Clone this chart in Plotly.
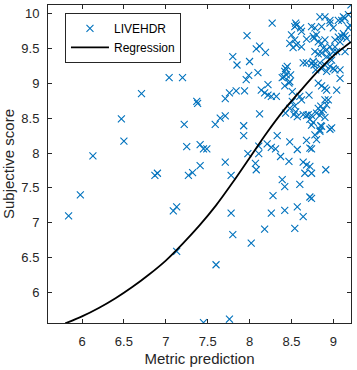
import plotly.graph_objects as go

# Scatter data (metric prediction, subjective score)
pred = [5.84, 5.98, 6.13, 6.47, 6.50, 6.71, 6.87, 6.90, 7.04, 7.20,
        7.22, 7.25, 7.27, 7.32, 7.41, 7.37, 7.38, 7.41, 7.45, 7.49,
        7.59, 7.65, 7.71, 7.71, 7.76, 7.84, 7.94, 7.97, 7.80, 7.85,
        8.00, 7.96, 7.99, 7.71, 7.78, 7.93, 7.93, 7.98, 7.13, 7.09,
        7.13, 7.78, 7.80, 7.60, 7.45, 7.76, 8.02, 8.18, 8.54, 8.26,
        8.42, 8.57, 8.64, 8.28, 8.42, 8.60, 8.72, 8.74, 8.39, 8.07,
        8.08, 8.11, 8.11, 8.21, 8.26, 8.31, 8.37, 8.33, 8.48, 8.57,
        8.47, 8.68, 8.72, 8.74, 8.64, 8.68, 8.72, 8.74, 8.91, 8.66,
        8.12, 8.96, 8.85, 8.84, 8.78, 8.74, 8.72, 8.68, 8.74, 8.80,
        8.84, 8.90, 8.86, 8.55, 8.57, 8.64, 8.70, 8.53, 8.43, 8.76,
        8.48, 8.54, 8.82, 8.85, 8.88, 8.94, 8.60, 8.62, 8.51, 8.51,
        8.14, 8.22, 8.22, 8.18, 8.26, 8.32, 8.39, 8.42, 8.45, 8.44,
        8.48, 8.42, 8.10, 8.08, 8.12, 8.19, 8.27, 8.50, 8.54, 8.48,
        8.56, 8.52, 8.54, 8.56, 8.62, 8.68, 8.62, 8.64, 8.68, 8.74,
        8.77, 8.74, 8.78, 8.76, 8.80, 8.86, 8.90, 8.84, 8.96, 9.06,
        9.12, 9.14, 9.20, 9.21, 8.82, 8.86, 8.90, 8.88, 8.92, 8.86,
        8.92, 8.96, 8.98, 9.02, 9.06, 9.10, 9.12, 9.14, 9.16, 9.08,
        9.02, 9.04, 8.78, 8.82, 8.76, 8.90, 8.96, 9.00, 9.02, 8.92,
        9.08, 8.82, 8.86, 8.90, 8.92, 9.04, 8.98, 8.86, 8.84, 8.80,
        8.96, 9.00, 9.10, 9.18, 9.18, 8.55, 8.61, 8.96, 9.00, 9.14,
        8.77, 8.43, 8.41, 8.49, 8.47, 8.71, 8.90, 8.92, 8.79, 8.84,
        8.86, 9.08]
score = [7.10, 7.40, 7.96, 8.49, 8.17, 8.85, 7.68, 7.71, 9.08, 9.08,
         8.41, 8.09, 7.68, 7.72, 7.82, 8.74, 8.71, 8.12, 8.06, 8.06,
         8.41, 8.50, 8.53, 8.78, 8.86, 8.89, 8.89, 9.68, 9.38, 9.26,
         9.31, 9.05, 9.11, 7.87, 7.68, 8.39, 8.25, 7.99, 7.23, 7.17,
         6.59, 7.14, 6.83, 6.40, 5.57, 5.62, 6.71, 6.91, 6.92, 7.14,
         7.18, 7.23, 7.09, 7.39, 7.52, 7.55, 7.37, 7.35, 7.62, 7.85,
         7.76, 7.99, 8.10, 8.13, 8.08, 8.06, 7.95, 8.25, 8.16, 8.05,
         7.88, 8.18, 8.07, 8.06, 7.87, 7.83, 7.81, 7.71, 7.76, 7.71,
         8.56, 8.34, 8.39, 8.33, 8.26, 8.40, 8.48, 8.54, 8.54, 8.57,
         8.54, 8.51, 8.59, 8.59, 8.52, 8.55, 8.55, 8.55, 8.57, 8.44,
         8.64, 8.67, 8.64, 8.67, 8.62, 8.76, 8.81, 8.76, 8.74, 8.88,
         8.90, 8.98, 8.83, 8.86, 8.81, 8.81, 9.08, 9.17, 9.24, 9.12,
         9.02, 8.96, 9.15, 9.49, 9.53, 9.44, 9.86, 9.69, 9.62, 9.57,
         9.55, 9.51, 9.81, 9.83, 9.74, 9.63, 9.52, 9.29, 9.29, 9.28,
         9.26, 9.81, 9.79, 9.67, 9.69, 9.81, 9.95, 9.95, 9.90, 9.90,
         9.95, 9.93, 9.83, 10.12, 9.59, 9.57, 9.62, 9.50, 9.48, 9.43,
         9.38, 9.40, 9.33, 9.62, 9.66, 9.67, 9.71, 9.68, 9.64, 9.59,
         9.52, 9.45, 9.45, 9.42, 9.31, 9.26, 9.24, 9.21, 9.19, 9.17,
         9.07, 9.00, 8.96, 8.93, 8.90, 8.90, 8.36, 8.38, 8.31, 8.19,
         9.86, 9.79, 9.90, 9.98, 9.79, 9.86, 9.79, 9.52, 9.45, 9.45,
         9.64, 9.21, 9.09, 9.12, 9.00, 8.83, 8.76, 8.69, 9.19, 9.29,
         9.21, 9.19]

# Regression curve points
reg_x = [5.80, 6.00, 6.20, 6.40, 6.60, 6.80, 7.00, 7.20, 7.40, 7.60,
         7.80, 8.00, 8.20, 8.40, 8.60, 8.80, 9.00, 9.21]
reg_y = [5.56, 5.66, 5.78, 5.92, 6.08, 6.26, 6.46, 6.70, 6.96, 7.25,
         7.58, 7.93, 8.28, 8.60, 8.88, 9.15, 9.39, 9.59]

x_ticks = [6, 6.5, 7, 7.5, 8, 8.5, 9]
y_ticks = [6, 6.5, 7, 7.5, 8, 8.5, 9, 9.5, 10]

FONT = "Liberation Sans, Arial, Helvetica, sans-serif"
AX = "#262626"

fig = go.Figure()
fig.add_trace(go.Scatter(
    x=pred, y=score, mode="markers", name="LIVEHDR",
    marker=dict(symbol="x-thin", size=7, color="#0072BD",
                line=dict(width=1.1, color="#0072BD")),
))
fig.add_trace(go.Scatter(
    x=reg_x, y=reg_y, mode="lines", name="Regression",
    line=dict(color="black", width=1.8, shape="spline", smoothing=0.8),
))

axis_common = dict(
    showgrid=False, zeroline=False, showline=True, linecolor=AX, linewidth=1,
    mirror="ticks", ticks="inside", ticklen=4, tickwidth=1, tickcolor=AX,
    tickfont=dict(family=FONT, size=13, color=AX), automargin=False,
)
fig.update_xaxes(range=[5.594, 9.211], tickvals=x_ticks,
                 ticktext=[f"{v:g}" for v in x_ticks], ticklabelstandoff=6,
                 title=dict(text="Metric prediction", standoff=5,
                            font=dict(family=FONT, size=15, color=AX)),
                 **axis_common)
fig.update_yaxes(range=[5.566, 10.119], tickvals=y_ticks,
                 ticktext=[f"{v:g}" for v in y_ticks], ticklabelstandoff=5,
                 title=dict(text="Subjective score", standoff=4,
                            font=dict(family=FONT, size=15, color=AX)),
                 **axis_common)

fig.update_layout(
    width=357, height=370,
    margin=dict(l=48, r=6, t=5, b=47),
    paper_bgcolor="white", plot_bgcolor="white",
    font=dict(family=FONT, size=13, color=AX),
    legend=dict(x=0.056, y=0.975, xanchor="left", yanchor="top",
                bgcolor="white", bordercolor=AX, borderwidth=1,
                font=dict(family=FONT, size=12, color="black"),
                tracegroupgap=0, itemwidth=38),
    showlegend=True,
)

fig.write_html("out.html", config={"displayModeBar": False},
               post_script="document.body.style.margin='0';")
